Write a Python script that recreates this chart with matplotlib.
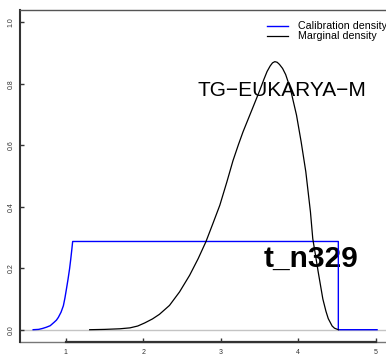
import matplotlib.pyplot as plt

plt.rcParams['font.family'] = ['Liberation Sans', 'DejaVu Sans']

# calibration density (soft lower bound, hard upper bound)
calib_t = [0.58, 0.65, 0.70, 0.75, 0.80, 0.85, 0.88, 0.905, 0.94, 0.97, 0.99, 1.01,
           1.03, 1.05, 1.065, 1.08, 1.09, 2.0, 3.0, 4.0, 4.52, 4.52, 5.02]
calib_d = [0.0, 0.001, 0.004, 0.008, 0.013, 0.024, 0.031, 0.040, 0.057, 0.078, 0.103, 0.133,
           0.164, 0.198, 0.229, 0.263, 0.287, 0.287, 0.287, 0.287, 0.287, 0.0, 0.0]

# marginal posterior density
post_t = [1.31, 1.50, 1.70, 1.83, 1.93, 2.02, 2.12, 2.21, 2.34, 2.47, 2.60, 2.71, 2.81,
          2.90, 2.99, 3.08, 3.16, 3.23, 3.29, 3.42, 3.50, 3.56, 3.60, 3.64, 3.67, 3.70, 3.73,
          3.76, 3.80, 3.84, 3.88, 3.91, 3.98, 4.04, 4.10, 4.16, 4.19, 4.23, 4.26, 4.32,
          4.36, 4.39, 4.44, 4.47, 4.52]
post_d = [0.0, 0.001, 0.003, 0.006, 0.012, 0.022, 0.035, 0.050, 0.079, 0.123, 0.177, 0.231,
          0.286, 0.345, 0.405, 0.480, 0.550, 0.602, 0.644, 0.725, 0.775, 0.815, 0.840, 0.858,
          0.868, 0.872, 0.870, 0.863, 0.850, 0.830, 0.800, 0.774, 0.698, 0.611, 0.514, 0.383,
          0.296, 0.235, 0.188, 0.100, 0.060, 0.036, 0.012, 0.005, 0.0]

node_name = 'TG\u2212EUKARYA\u2212M'
node_id = 't_n329'

fig = plt.figure(figsize=(3.86, 3.56), dpi=100)
ax = fig.add_axes([20 / 386, 14 / 356, 371 / 386, 332 / 356])

ax.axhline(0, color='#c4c4c4', lw=1.0, zorder=1)
ax.plot(calib_t, calib_d, color='#0000ff', lw=1.0, label='Calibration density', zorder=3)
ax.plot(post_t, post_d, color='black', lw=0.9, label='Marginal density', zorder=3)

ax.set_xlim(0.41, 5.2)
ax.set_ylim(-0.04, 1.04)

ax.set_xticks([1, 2, 3, 4, 5])
ax.set_yticks([0, 0.2, 0.4, 0.6, 0.8, 1.0])
ax.set_yticklabels(['0.0', '0.2', '0.4', '0.6', '0.8', '1.0'], rotation=90, va='center')
ax.tick_params(axis='both', direction='in', length=3, width=1, labelsize=5,
               colors='#333333', pad=4)
ax.tick_params(axis='x', pad=5)

for s in ax.spines.values():
    s.set_color('#555555')
    s.set_linewidth(1.0)
ax.spines['right'].set_visible(False)
ax.spines['left'].set_linewidth(1.5)
ax.spines['left'].set_color('#333333')
ax.spines['bottom'].set_bounds(1, 5)
ax.spines['bottom'].set_linewidth(1.6)
ax.spines['bottom'].set_color('#333333')
ax.plot([0, 1], [0, 0], transform=ax.transAxes, color='#777777', lw=1.0, clip_on=False)

ax.text(3.79, 0.761, node_name, fontsize=15, ha='center', va='baseline', zorder=2)
ax.text(4.17, 0.204, node_id, fontsize=21.5, fontweight='bold', ha='center',
        va='baseline', zorder=2)

ax.legend(loc='upper right', bbox_to_anchor=(1.006, 0.985),
          frameon=False, fontsize=7.7, handlelength=2.0, handletextpad=0.9,
          labelspacing=0.0, borderaxespad=0.2)

fig.savefig('out.png', dpi=100)
